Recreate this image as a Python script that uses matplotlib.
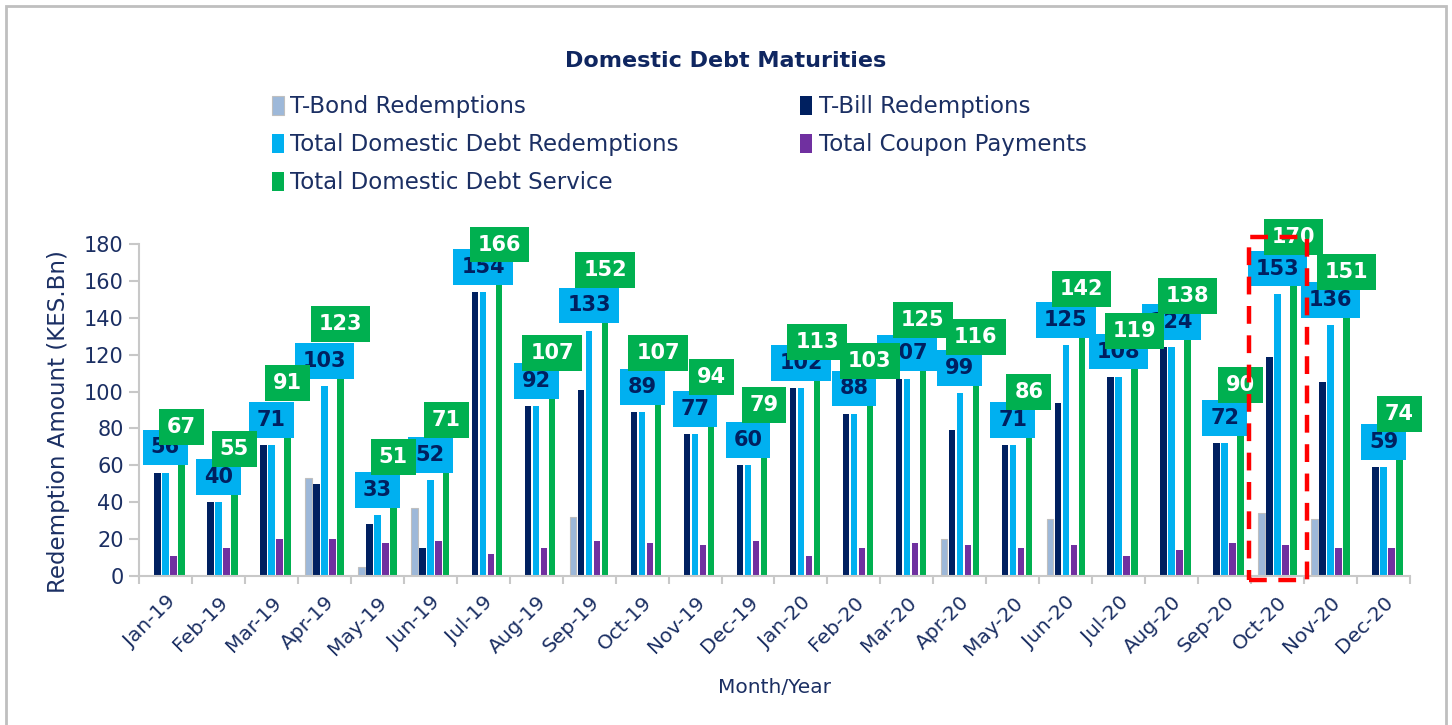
import matplotlib
matplotlib.use('Agg')
import matplotlib.pyplot as plt
import numpy as np
from matplotlib.patches import Rectangle

# data (KES bn)
months = ['Jan-19', 'Feb-19', 'Mar-19', 'Apr-19', 'May-19', 'Jun-19', 'Jul-19', 'Aug-19',
          'Sep-19', 'Oct-19', 'Nov-19', 'Dec-19', 'Jan-20', 'Feb-20', 'Mar-20', 'Apr-20',
          'May-20', 'Jun-20', 'Jul-20', 'Aug-20', 'Sep-20', 'Oct-20', 'Nov-20', 'Dec-20']
tbond = [0, 0, 0, 53, 5, 37, 0, 0, 32, 0, 0, 0,
         0, 0, 0, 20, 0, 31, 0, 0, 0, 34, 31, 0]
tbill = [56, 40, 71, 50, 28, 15, 154, 92, 101, 89, 77, 60,
         102, 88, 107, 79, 71, 94, 108, 124, 72, 119, 105, 59]
total_red = [56, 40, 71, 103, 33, 52, 154, 92, 133, 89, 77, 60,
             102, 88, 107, 99, 71, 125, 108, 124, 72, 153, 136, 59]
coupon = [11, 15, 20, 20, 18, 19, 12, 15, 19, 18, 17, 19,
          11, 15, 18, 17, 15, 17, 11, 14, 18, 17, 15, 15]
total_service = [67, 55, 91, 123, 51, 71, 166, 107, 152, 107, 94, 79,
                 113, 103, 125, 116, 86, 142, 119, 138, 90, 170, 151, 74]
highlight = 'Oct-20'

navy_txt = '#1b2f63'
c_bond = '#9db8d9'
c_bill = '#002060'
c_red = '#00b0f0'
c_coup = '#7030a0'
c_serv = '#00b050'
grey = '#c8c8c8'

plt.rcParams['font.family'] = ['DejaVu Sans']

fig = plt.figure(figsize=(14.52, 7.25), dpi=100)
ax = fig.add_axes([0.0957, 0.2055, 0.8754, 0.4579])

x = np.arange(len(months))
step = 0.151
w = 0.123

b1 = ax.bar(x - 2 * step, tbond, w, color=c_bond, edgecolor='#bfbfbf', linewidth=0.8, label='T-Bond Redemptions')
b2 = ax.bar(x - step, tbill, w, color=c_bill, label='T-Bill Redemptions')
b3 = ax.bar(x, total_red, w, color=c_red, label='Total Domestic Debt Redemptions')
b4 = ax.bar(x + step, coupon, w, color=c_coup, label='Total Coupon Payments')
b5 = ax.bar(x + 2 * step, total_service, w, color=c_serv, label='Total Domestic Debt Service')

# value boxes: blue first, green on top
for i, v in enumerate(total_red):
    ax.annotate(str(v), (x[i], v), xytext=(0, 11), textcoords='offset points',
                ha='center', va='bottom', fontsize=15, fontweight='bold', color=c_bill,
                bbox=dict(boxstyle='square,pad=0.38', fc=c_red, ec='none'), zorder=5)
for i, v in enumerate(total_service):
    ax.annotate(str(v), (x[i] + 2 * step, v), xytext=(0, 11), textcoords='offset points',
                ha='center', va='bottom', fontsize=15, fontweight='bold', color='white',
                bbox=dict(boxstyle='square,pad=0.38', fc=c_serv, ec='none'), zorder=6)

# red dashed highlight box
k = months.index(highlight)
ax.add_patch(Rectangle((k - 0.54, -2.2), 1.1, 186, fill=False, ec='#ff0000', lw=3.2,
                       ls=(0, (4, 2.6)), clip_on=False, zorder=7))

ax.set_xlim(-0.5, len(months) - 0.5)
ax.set_ylim(0, 180)
ax.set_yticks(range(0, 181, 20))
ax.set_xticks(x)
ax.set_xticklabels(months, rotation=45, ha='right', rotation_mode='anchor')
ax.set_xticks(np.arange(-0.5, len(months), 1), minor=True)
ax.tick_params(axis='x', which='major', length=0, pad=12, labelsize=14.5, labelcolor=navy_txt)
ax.tick_params(axis='x', which='minor', length=6, width=1.5, color=grey, direction='out')
ax.tick_params(axis='y', length=7, width=1.5, color=grey, labelsize=15, labelcolor=navy_txt, pad=4)

for s in ['top', 'right']:
    ax.spines[s].set_visible(False)
for s in ['left', 'bottom']:
    ax.spines[s].set_color(grey)
    ax.spines[s].set_linewidth(1.5)

ax.set_ylabel('Redemption Amount (KES.Bn)', fontsize=16.5, color=navy_txt)
ax.yaxis.set_label_coords(-0.054, 0.465)
ax.set_xlabel('Month/Year', fontsize=14.5, color=navy_txt, labelpad=14)

fig.text(0.5, 1 - 61 / 725, 'Domestic Debt Maturities', ha='center', va='center',
         fontsize=16, fontweight='bold', color='#0f2660')

handles = [b1, b3, b5, b2, b4]
fig.legend(handles, [h.get_label() for h in handles], ncol=2, loc='upper left',
           bbox_to_anchor=(263 / 1452, 1 - 86 / 725), frameon=False, fontsize=16.5,
           labelcolor=navy_txt, handlelength=0.5, handleheight=0.9, handletextpad=0.3,
           columnspacing=5.3, labelspacing=0.66, borderaxespad=0)

# outer grey frame (bottom edge runs off the picture)
fig.patches.append(Rectangle((6 / 1452, -0.05), 1440 / 1452, 1.05 - 6 / 725, transform=fig.transFigure,
                             fill=False, ec='#bfbfbf', lw=2))

fig.savefig('out.png', dpi=100)
